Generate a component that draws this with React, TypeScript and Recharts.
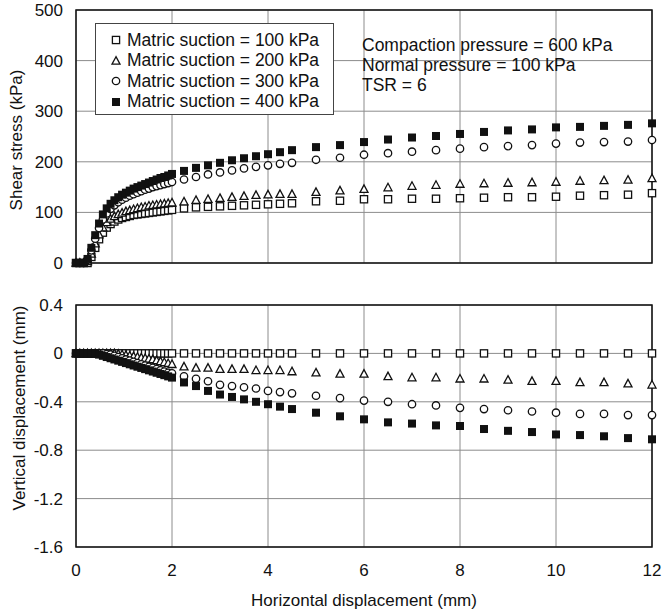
import {
  ScatterChart,
  Scatter,
  XAxis,
  YAxis,
  CartesianGrid,
  ReferenceArea,
  Legend,
  Label,
} from "recharts";

const FONT = '"Liberation Sans", Arial, Helvetica, sans-serif';
const INK = "#111";
const GRID = "#8c8c8c";

// horizontal displacement readings (mm): dense up to 2 mm, coarser after
const H_FINE = [
  0, 0.08, 0.16, 0.24, 0.32, 0.4, 0.48, 0.56, 0.64, 0.72, 0.8, 0.88, 0.96,
  1.04, 1.12, 1.2, 1.28, 1.36, 1.44, 1.52, 1.6, 1.68, 1.76, 1.84, 1.92, 2.0,
];
const H_COARSE = [
  2.25, 2.5, 2.75, 3, 3.25, 3.5, 3.75, 4, 4.25, 4.5, 5, 5.5, 6, 6.5, 7, 7.5, 8,
  8.5, 9, 9.5, 10, 10.5, 11, 11.5, 12,
];
const H_DISP = [...H_FINE, ...H_COARSE];

const SUCTION_LABELS = [
  "Matric suction = 100 kPa",
  "Matric suction = 200 kPa",
  "Matric suction = 300 kPa",
  "Matric suction = 400 kPa",
];

const TEST_NOTES = [
  "Compaction pressure = 600 kPa",
  "Normal pressure = 100 kPa",
  "TSR = 6",
];

// shear stress (kPa)
const SHEAR_100 = [
  0, 0, 0, 0, 12, 30, 47, 60, 70, 77, 82, 86, 89, 91, 93, 95, 96, 97, 98, 99,
  100, 101, 102, 103, 104, 105,
  108, 110, 111, 112, 113, 114, 115, 116, 117, 118, 122, 123, 126, 126, 127,
  127, 128, 129, 130, 130, 131, 133, 134, 135, 138,
];
const SHEAR_200 = [
  0, 0, 0, 3, 18, 38, 56, 70, 80, 87, 92, 96, 99, 102, 104, 106, 108, 110, 111,
  113, 114, 115, 116, 117, 118, 119,
  121, 124, 126, 128, 130, 132, 134, 135, 136, 136, 140, 143, 146, 149, 152,
  154, 156, 157, 158, 159, 160, 162, 163, 164, 167,
];
const SHEAR_300 = [
  0, 0, 0, 6, 25, 48, 69, 86, 98, 107, 114, 120, 125, 129, 133, 136, 139, 142,
  145, 147, 150, 152, 154, 156, 158, 160,
  165, 170, 175, 179, 183, 187, 190, 193, 196, 198, 204, 208, 214, 217, 220,
  223, 226, 229, 231, 233, 236, 238, 239, 240, 243,
];
const SHEAR_400 = [
  0, 0, 0, 8, 30, 55, 78, 96, 108, 117, 124, 130, 135, 139, 143, 147, 150, 153,
  156, 159, 162, 165, 168, 170, 173, 176,
  182, 188, 193, 198, 203, 207, 211, 215, 219, 223, 229, 233, 239, 244, 248,
  251, 255, 259, 262, 264, 268, 269, 271, 273, 276,
];

// vertical displacement (mm), negative = compression
const VERT_100 = [
  0, 0, 0, 0, 0, 0, 0, 0, 0, 0, 0, 0, 0, 0, 0, 0, 0, 0, 0, 0, 0, 0, 0, 0, 0, 0,
  0, 0, 0, 0, 0, 0, 0, 0, 0, 0, 0, 0, 0, 0, 0, 0, 0, 0, 0, 0, 0, 0, 0, 0, 0,
];
const VERT_200 = [
  0, 0, 0, 0, 0, 0, 0, 0, 0, 0, 0, -0.005, -0.01, -0.015, -0.02, -0.025, -0.03,
  -0.035, -0.04, -0.045, -0.05, -0.058, -0.066, -0.074, -0.082, -0.09,
  -0.11, -0.12, -0.12, -0.13, -0.13, -0.13, -0.14, -0.14, -0.14, -0.15, -0.16,
  -0.17, -0.17, -0.19, -0.2, -0.2, -0.21, -0.21, -0.22, -0.23, -0.23, -0.24,
  -0.24, -0.25, -0.26,
];
const VERT_300 = [
  0, 0, 0, 0, 0, 0, 0, 0, -0.005, -0.01, -0.02, -0.03, -0.04, -0.05, -0.06,
  -0.07, -0.08, -0.09, -0.1, -0.11, -0.12, -0.13, -0.14, -0.15, -0.16, -0.165,
  -0.19, -0.21, -0.23, -0.26, -0.27, -0.28, -0.29, -0.31, -0.32, -0.33, -0.35,
  -0.37, -0.39, -0.4, -0.42, -0.43, -0.45, -0.46, -0.47, -0.48, -0.49, -0.5,
  -0.5, -0.51, -0.51,
];
const VERT_400 = [
  0, 0, 0, 0, 0, 0, -0.01, -0.02, -0.03, -0.04, -0.05, -0.06, -0.07, -0.08,
  -0.09, -0.1, -0.11, -0.12, -0.13, -0.14, -0.15, -0.16, -0.17, -0.18, -0.19,
  -0.2,
  -0.24, -0.27, -0.31, -0.34, -0.36, -0.38, -0.4, -0.42, -0.44, -0.46, -0.49,
  -0.52, -0.545, -0.57, -0.58, -0.595, -0.6, -0.625, -0.64, -0.65, -0.67,
  -0.675, -0.685, -0.7, -0.71,
];

const X_TICKS = [0, 2, 4, 6, 8, 10, 12];
const SHEAR_TICKS = [0, 100, 200, 300, 400, 500];
const VERT_TICKS = [-1.6, -1.2, -0.8, -0.4, 0, 0.4];

const toPoints = (ys: number[]) => H_DISP.map((x, i) => ({ x, y: ys[i] }));

type MarkProps = { cx?: number; cy?: number };

function OpenSquare({ cx = 0, cy = 0 }: MarkProps) {
  return (
    <rect x={cx - 3.6} y={cy - 3.6} width={7.2} height={7.2}
      fill="#fff" stroke={INK} strokeWidth={1.3} />
  );
}

function OpenTriangle({ cx = 0, cy = 0 }: MarkProps) {
  const pts = `${cx},${cy - 4.3} ${cx - 4},${cy + 3.2} ${cx + 4},${cy + 3.2}`;
  return <polygon points={pts} fill="#fff" stroke={INK} strokeWidth={1.3} />;
}

function OpenCircle({ cx = 0, cy = 0 }: MarkProps) {
  return <circle cx={cx} cy={cy} r={3.7} fill="#fff" stroke={INK} strokeWidth={1.3} />;
}

function SolidSquare({ cx = 0, cy = 0 }: MarkProps) {
  return <rect x={cx - 4} y={cy - 4} width={8} height={8} fill={INK} />;
}

const MARKERS = [OpenSquare, OpenTriangle, OpenCircle, SolidSquare];
const SHEAR_SERIES = [SHEAR_100, SHEAR_200, SHEAR_300, SHEAR_400];
const VERT_SERIES = [VERT_100, VERT_200, VERT_300, VERT_400];

const tickStyle = { fontSize: 17, fill: INK, fontFamily: FONT };

function SuctionLegend() {
  return (
    <div
      style={{
        boxSizing: "border-box",
        width: 239,
        height: 92,
        border: "1px solid #444",
        background: "#fff",
        padding: "6px 0 0 15px",
        fontFamily: FONT,
        fontSize: 17.5,
        color: INK,
      }}
    >
      {SUCTION_LABELS.map((label, i) => {
        const Mark = MARKERS[i];
        return (
          <div key={label} style={{ display: "flex", alignItems: "center", height: 20.5 }}>
            <svg width={10} height={10} style={{ marginRight: 6, overflow: "visible" }}>
              <Mark cx={5} cy={5} />
            </svg>
            <span style={{ whiteSpace: "nowrap" }}>{label}</span>
          </div>
        );
      })}
    </div>
  );
}

function ShearPanel() {
  return (
    <ScatterChart width={662} height={280} margin={{ top: 10, right: 10, bottom: 17, left: 31 }}>
      <CartesianGrid stroke={GRID} strokeWidth={1} />
      <XAxis type="number" dataKey="x" domain={[0, 12]} ticks={X_TICKS} hide />
      <YAxis
        type="number"
        dataKey="y"
        domain={[0, 500]}
        ticks={SHEAR_TICKS}
        interval={0}
        width={45}
        axisLine={false}
        tickLine={false}
        tickSize={0}
        tickMargin={13}
        tick={tickStyle}
      >
        <Label
          content={() => (
            <text x={16} y={140} transform="rotate(-90 16 140)" textAnchor="middle"
              dominantBaseline="central" fontSize={17} fontFamily={FONT} fill={INK}>
              Shear stress (kPa)
            </text>
          )}
        />
      </YAxis>
      <ReferenceArea x1={0} x2={12} y1={0} y2={500} fill="none" stroke={INK} strokeWidth={1.5} />
      {SHEAR_SERIES.map((ys, i) => (
        <Scatter key={i} name={SUCTION_LABELS[i]} data={toPoints(ys)}
          shape={MARKERS[i]} isAnimationActive={false} />
      ))}
      <Legend
        layout="vertical"
        align="center"
        verticalAlign="middle"
        wrapperStyle={{ left: 95, top: 23, width: 239 }}
        content={() => <SuctionLegend />}
      />
    </ScatterChart>
  );
}

function VerticalPanel() {
  return (
    <ScatterChart width={662} height={332} margin={{ top: 25, right: 10, bottom: 35, left: 31 }}>
      <CartesianGrid stroke={GRID} strokeWidth={1} />
      <XAxis
        type="number"
        dataKey="x"
        domain={[0, 12]}
        ticks={X_TICKS}
        interval={0}
        height={30}
        axisLine={false}
        tickLine={false}
        tickSize={0}
        tickMargin={17}
        tick={tickStyle}
      >
        <Label value="Horizontal displacement (mm)" position="bottom" offset={17}
          style={{ fontSize: 17, fontFamily: FONT, fill: INK }} />
      </XAxis>
      <YAxis
        type="number"
        dataKey="y"
        domain={[-1.6, 0.4]}
        ticks={VERT_TICKS}
        interval={0}
        width={45}
        axisLine={false}
        tickLine={false}
        tickSize={0}
        tickMargin={13}
        tick={tickStyle}
      >
        <Label
          content={() => (
            <text x={19} y={128} transform="rotate(-90 19 128)" textAnchor="middle"
              dominantBaseline="central" fontSize={17} fontFamily={FONT} fill={INK}>
              Vertical displacement (mm)
            </text>
          )}
        />
      </YAxis>
      <ReferenceArea x1={0} x2={12} y1={-1.6} y2={0.4} fill="none" stroke={INK} strokeWidth={1.5} />
      {VERT_SERIES.map((ys, i) => (
        <Scatter key={i} name={SUCTION_LABELS[i]} data={toPoints(ys)}
          shape={MARKERS[i]} isAnimationActive={false} />
      ))}
    </ScatterChart>
  );
}

export default function App() {
  return (
    <div
      style={{
        position: "absolute",
        left: 0,
        top: 0,
        width: 662,
        height: 612,
        background: "#fff",
        fontFamily: FONT,
        color: INK,
      }}
    >
      <div style={{ position: "absolute", left: 0, top: 0 }}>
        <ShearPanel />
      </div>
      <div style={{ position: "absolute", left: 0, top: 280 }}>
        <VerticalPanel />
      </div>
      <div
        style={{
          position: "absolute",
          left: 362,
          top: 35,
          fontSize: 17.5,
          lineHeight: "20px",
          whiteSpace: "nowrap",
        }}
      >
        {TEST_NOTES.map((note) => (
          <div key={note}>{note}</div>
        ))}
      </div>
    </div>
  );
}
